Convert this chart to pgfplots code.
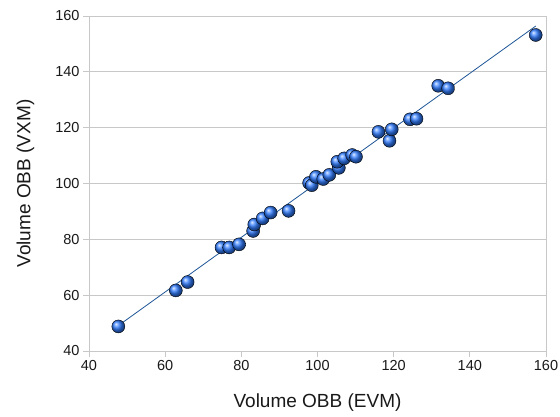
\documentclass[border=0pt]{standalone}
\usepackage{fontspec}
\setmainfont{Liberation Sans}
\usepackage{pgfplots}
\pgfplotsset{compat=1.18}
\definecolor{ballblue}{RGB}{50,125,255}
\definecolor{linec}{RGB}{30,85,150}
\definecolor{gridc}{RGB}{200,200,200}
\begin{document}
\begin{tikzpicture}
\useasboundingbox (-89pt,-65pt) rectangle (471pt,351pt);
\begin{axis}[
  scale only axis, width=457pt, height=335pt,
  xmin=40, xmax=160, ymin=40, ymax=160,
  xtick={40,60,...,160}, ytick={40,60,...,160},
  ymajorgrids, xmajorgrids=false,
  grid style={gridc, line width=0.8pt},
  axis line style={gridc, line width=0.8pt},
  tick style={gridc, line width=0.8pt},
  tick align=outside, major tick length=6pt,
  xtick pos=bottom, ytick pos=left,
  /pgf/number format/assume math mode=true,
  ticklabel style={font=\fontsize{14.5}{16}\selectfont, text=black!90},
  xlabel={Volume OBB (EVM)}, ylabel={Volume OBB (VXM)},
  label style={font=\fontsize{19}{22}\selectfont, text=black!90},
  xlabel style={yshift=-16pt},
  ylabel style={yshift=14pt},
]
\addplot[linec, line width=0.8pt] coordinates {(47.7,49.1) (157.3,156.4)};
\addplot[only marks, mark=ball, mark size=6.5pt, mark options={ball color=ballblue, draw=none}] coordinates {
(47.7,48.8)
(62.8,61.7)
(65.9,64.7)
(74.8,77.1)
(76.8,77.1)
(79.4,78.2)
(83.1,83.0)
(83.4,85.3)
(85.6,87.5)
(87.7,89.6)
(92.4,90.2)
(97.8,100.2)
(98.5,99.4)
(99.6,102.4)
(101.5,101.6)
(103.1,103.1)
(105.6,105.6)
(105.2,107.8)
(107.0,109.0)
(109.1,110.2)
(110.1,109.6)
(118.9,115.3)
(116.0,118.5)
(119.5,119.4)
(124.3,123.0)
(126.0,123.2)
(131.7,135.0)
(134.3,134.1)
(157.3,153.2)
};
\end{axis}
\end{tikzpicture}
\end{document}
